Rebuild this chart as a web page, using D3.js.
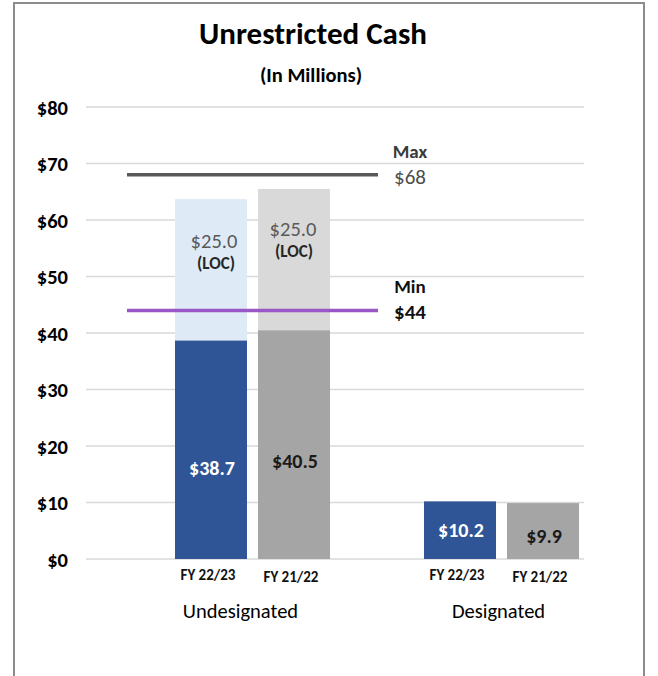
<!DOCTYPE html>
<html>
<head>
<meta charset="utf-8">
<script src="https://cdn.jsdelivr.net/npm/d3@7"></script>
<style>
  html, body { margin: 0; padding: 0; background: #fff; }
  svg { display: block; font-family: Carlito, Lato, "Open Sans", sans-serif; }
</style>
</head>
<body>
<svg id="chart" width="658" height="676"></svg>
<script>
// ---- data ----
const groups = ["Undesignated", "Designated"];
const slots = ["U1", "U2", "gap", "D1", "D2"];
const barSlots = ["U1", "U2", "D1", "D2"];
const barGroup = ["Undesignated", "Undesignated", "Designated", "Designated"];
const barYears = ["FY 22/23", "FY 21/22", "FY 22/23", "FY 21/22"];
const cashValues = [38.7, 40.5, 10.2, 9.9];
const locValues = [25.0, 25.0, 0, 0];
const cashLabels = ["$38.7", "$40.5", "$10.2", "$9.9"];
const locLabels = ["$25.0", "$25.0", "", ""];
const refNames = ["Max", "Min"];
const refValues = [68, 44];
const refLabels = ["$68", "$44"];
const yTicks = [0, 10, 20, 30, 40, 50, 60, 70, 80];

// ---- styles ----
const cashColors = ["#2F5597", "#A5A5A5", "#2F5597", "#A5A5A5"];
const locColors = ["#DEEBF7", "#D9D9D9", "#DEEBF7", "#D9D9D9"];
const cashText = ["#FFFFFF", "#1A1A1A", "#FFFFFF", "#1A1A1A"];
const refColors = ["#595959", "#9A57C6"];
const refTextColors = [["#3A3A3A", "#4D4D4D"], ["#111111", "#111111"]];

const svg = d3.select("#chart");

// frame
svg.append("rect").attr("x", 14).attr("y", 3).attr("width", 630).attr("height", 700)
  .attr("fill", "none").attr("stroke", "#8C8C8C").attr("stroke-width", 2);

const plotLeft = 86, plotRight = 584;
const y = d3.scaleLinear().domain([0, 80]).range([559, 107]);
const x = d3.scaleBand().domain(slots).range([170, 584]).paddingInner(0.1325).paddingOuter(0.06);
const bw = x.bandwidth();

// title
svg.append("text").attr("x", 313).attr("y", 44).attr("text-anchor", "middle")
  .attr("font-size", 31).attr("font-weight", 700).attr("fill", "#000").text("Unrestricted Cash");
svg.append("text").attr("x", 311).attr("y", 82).attr("text-anchor", "middle")
  .attr("font-size", 20.5).attr("font-weight", 700).attr("fill", "#000").text("(In Millions)");

// gridlines
svg.append("g").selectAll("line").data(yTicks).join("line")
  .attr("x1", plotLeft).attr("x2", plotRight)
  .attr("y1", d => y(d)).attr("y2", d => y(d))
  .attr("stroke", "#D9D9D9").attr("stroke-width", 1.5);

// y axis labels
const yAxis = d3.axisLeft(y).tickValues(yTicks).tickFormat(d => "$" + d).tickSize(0).tickPadding(0);
const yg = svg.append("g").attr("transform", "translate(68,0)").call(yAxis);
yg.select(".domain").remove();
yg.selectAll("text").attr("font-size", 20.5).attr("font-weight", 700).attr("fill", "#000")
  .attr("font-family", "Carlito, Lato, sans-serif").attr("dy", "0.35em");

// bars
const bars = svg.append("g");
barSlots.forEach((s, i) => {
  bars.append("rect").attr("x", x(s)).attr("width", bw)
    .attr("y", y(cashValues[i])).attr("height", y(0) - y(cashValues[i]))
    .attr("fill", cashColors[i]);
  if (locValues[i] > 0) {
    const top = cashValues[i] + locValues[i];
    bars.append("rect").attr("x", x(s)).attr("width", bw)
      .attr("y", y(top)).attr("height", y(cashValues[i]) - y(top))
      .attr("fill", locColors[i]);
  }
});

// reference lines (drawn over bars)
const refStart = x("U1") - 48, refEnd = x("U2") + bw + 48;
refValues.forEach((v, i) => {
  svg.append("line").attr("x1", refStart).attr("x2", refEnd)
    .attr("y1", y(v)).attr("y2", y(v))
    .attr("stroke", refColors[i]).attr("stroke-width", 3.5);
  svg.append("text").attr("x", refEnd + 32).attr("y", y(v) - 17).attr("text-anchor", "middle")
    .attr("font-size", 19).attr("font-weight", 700).attr("fill", refTextColors[i][0]).text(refNames[i]);
  svg.append("text").attr("x", refEnd + 32).attr("y", y(v) + 9).attr("text-anchor", "middle")
    .attr("font-size", 21).attr("font-weight", i === 0 ? 400 : 700).attr("fill", refTextColors[i][1]).text(refLabels[i]);
});

// value labels
barSlots.forEach((s, i) => {
  const cx = x(s) + bw / 2;
  const cashLabelY = i < 2 ? (i === 0 ? 475 : 468) : (i === 2 ? 537 : 543);
  svg.append("text").attr("x", cx + 1).attr("y", cashLabelY).attr("text-anchor", "middle")
    .attr("font-size", 20).attr("font-weight", 700)
    .attr("fill", cashText[i]).text(cashLabels[i]);
  if (locValues[i] > 0) {
    const ly = i === 0 ? 248 : 236;
    svg.append("text").attr("x", cx + (i === 0 ? 3 : -1)).attr("y", ly).attr("text-anchor", "middle")
      .attr("font-size", 20.5).attr("fill", "#595959").text(locLabels[i]);
    svg.append("text").attr("x", cx + (i === 0 ? 5 : 0)).attr("y", ly + 21).attr("text-anchor", "middle")
      .attr("font-size", 17).attr("font-weight", 700).attr("fill", "#262626").text("(LOC)");
  }
  svg.append("text").attr("x", cx - 3).attr("y", i % 2 === 0 ? 580 : 582).attr("text-anchor", "middle")
    .attr("font-size", 15).attr("font-weight", 700).attr("fill", "#111").text(barYears[i]);
});

// group labels
groups.forEach((g, gi) => {
  const idx = barGroup.map((b, i) => b === g ? i : -1).filter(i => i >= 0);
  const left = x(barSlots[idx[0]]), right = x(barSlots[idx[idx.length - 1]]) + bw;
  svg.append("text").attr("x", (left + right) / 2 - (gi === 0 ? 12 : 3)).attr("y", 618)
    .attr("text-anchor", "middle").attr("font-size", 20.5).attr("font-weight", 400)
    .attr("fill", "#000").text(g);
});
</script>
</body>
</html>
